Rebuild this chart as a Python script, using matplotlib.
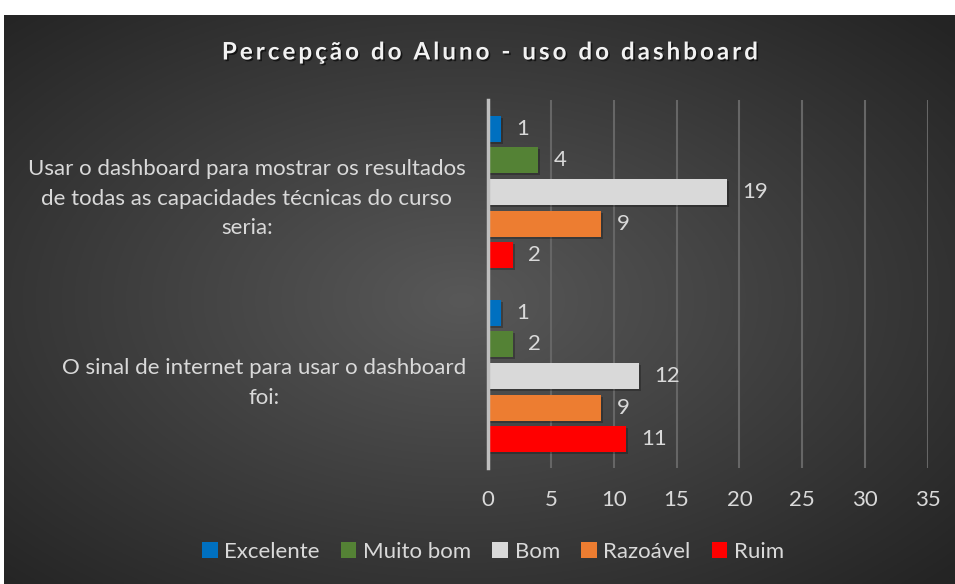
import numpy as np
import matplotlib
matplotlib.use("Agg")
import matplotlib.pyplot as plt
from matplotlib.patches import Patch
import matplotlib.patheffects as pe

# Data
categories = ["O sinal de internet para usar o dashboard\nfoi:",
              "Usar o dashboard para mostrar os resultados\nde todas as capacidades técnicas do curso\nseria:"]
series_names = ["Excelente", "Muito bom", "Bom", "Razoável", "Ruim"]
series_colors = ["#0070c0", "#548235", "#d9d9d9", "#ed7d31", "#ff0000"]
# values per series: [O sinal..., Usar o dashboard...]
excelente = [1, 1]
muito_bom = [2, 4]
bom = [12, 19]
razoavel = [9, 9]
ruim = [11, 2]
values = [excelente, muito_bom, bom, razoavel, ruim]

title = "Percepção do Aluno - uso do dashboard"
text_col = "#d9d9d9"
font = ["Lato", "DejaVu Sans"]

fig = plt.figure(figsize=(9.55, 5.84), dpi=100)
fig.patch.set_facecolor("white")

# radial gradient background
bg = fig.add_axes([4 / 955, 0, 1 - 4 / 955, 569 / 584])
bg.set_axis_off()
ny, nx = 300, 500
yy, xx = np.mgrid[0:ny, 0:nx]
r = np.sqrt(((xx - nx * 0.48) / (nx * 0.5)) ** 2 + ((yy - ny * 0.5) / (ny * 0.5)) ** 2)
r = np.clip(r / 1.41, 0, 1)
c0 = np.array([0x58, 0x58, 0x58]) / 255
c1 = np.array([0x24, 0x24, 0x24]) / 255
img = c0[None, None, :] * (1 - r[..., None]) + c1[None, None, :] * r[..., None]
bg.imshow(img, aspect="auto", extent=[0, 1, 0, 1])

ax = fig.add_axes([488 / 955, 1 - 468 / 584, 440 / 955, 368 / 584])
ax.patch.set_alpha(0)

y = np.arange(len(categories))
step = 0.172
height = 0.141
shadow = [pe.SimplePatchShadow(offset=(1.5, -1.5), shadow_rgbFace="black", alpha=0.25), pe.Normal()]
for i, (name, vals, col) in enumerate(zip(series_names, values, series_colors)):
    pos = y + (2 - i) * step
    bars = ax.barh(pos, vals, height=height, color=col, label=name, zorder=3)
    for b in bars:
        b.set_path_effects(shadow)
    for p, v in zip(pos, vals):
        ax.annotate(str(v), (v, p), xytext=(11, 0), textcoords="offset points",
                    va="center", ha="left", color=text_col, fontsize=16, family=font)

ax.set_xlim(0, 35)
ax.set_ylim(-0.5, 1.5)
ax.set_xticks(range(0, 36, 5))
ax.set_yticks(y)
ax.set_yticklabels(categories, ha="right", multialignment="center", linespacing=1.6)
ax.tick_params(axis="y", length=0, pad=16, labelsize=16, labelcolor=text_col)
ax.tick_params(axis="x", length=0, pad=16, labelsize=16, labelcolor=text_col)
for lab in ax.get_xticklabels() + ax.get_yticklabels():
    lab.set_family(font)
ax.grid(axis="x", color="#666666", linewidth=1.5, zorder=0)
ax.set_axisbelow(True)
for s in ["top", "right", "bottom"]:
    ax.spines[s].set_visible(False)
ax.spines["left"].set_color("#bfbfbf")
ax.spines["left"].set_linewidth(2.5)
ax.spines["left"].set_zorder(4)

t = fig.text(489 / 955, 1 - 52 / 584, "\u2009".join(title), ha="center", va="center",
             fontsize=17.4, fontweight="bold", color="#f2f2f2", family=font)
t.set_path_effects([pe.withSimplePatchShadow(offset=(1.2, -1.2), shadow_rgbFace="black", alpha=0.6)])

handles = [Patch(facecolor=c, label=n) for n, c in zip(series_names, series_colors)]
leg = fig.legend(handles=handles, loc="center", bbox_to_anchor=(493 / 955, 1 - 552 / 584), ncol=5,
                 frameon=False, handlelength=0.7, handleheight=0.7, handletextpad=0.3,
                 columnspacing=0.95, prop={"family": font, "size": 16})
for tx in leg.get_texts():
    tx.set_color(text_col)

fig.savefig("out.png", dpi=100, facecolor=fig.get_facecolor())
